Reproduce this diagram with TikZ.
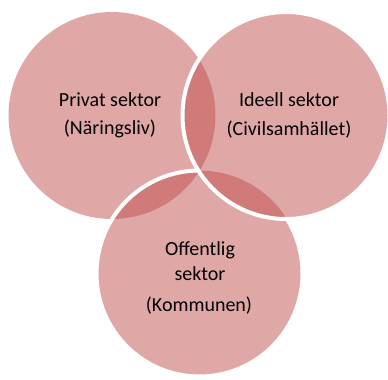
\documentclass[tikz,border=0pt]{standalone}
\usepackage{fontspec}
\setmainfont{Carlito}
\definecolor{vennred}{HTML}{C0504D}
\begin{document}
\begin{tikzpicture}[x=0.75pt,y=-0.75pt,
  vennfill/.style={fill=vennred,fill opacity=0.5,draw=none},
  vennedge/.style={draw=white,line width=3pt},
  lbl/.style={anchor=base,inner sep=0pt,font=\fontsize{15}{18}\selectfont,text=black}]
\useasboundingbox (0,0) rectangle (388,379);
% fills
\fill[vennfill] (112,115.5) circle (103.5);
\fill[vennfill] (199.5,273.5) circle (103);
\fill[vennfill] (286,115.5) circle (103.5);
% white edges: bottom circle (outside right circle), then right circle
\begin{scope}[even odd rule]
  \clip (-10,-10) rectangle (400,400) (286,115.5) circle (103.5);
  \draw[vennedge] (199.5,273.5) circle (103);
\end{scope}
\draw[vennedge] (286,115.5) circle (103.5);
% labels
\node[lbl] (p1) at (110,106) {Privat sektor};
\node[lbl] (p2) at (110,134.5) {(Näringsliv)};
\node[lbl] (i1) at (289,106.5) {Ideell sektor};
\node[lbl] (i2) at (289,135) {(Civilsamhället)};
\node[lbl] (o1) at (200,255) {Offentlig};
\node[lbl] (o2) at (200,280) {sektor};
\node[lbl] (o3) at (199,311.5) {(Kommunen)};
\end{tikzpicture}
\end{document}
